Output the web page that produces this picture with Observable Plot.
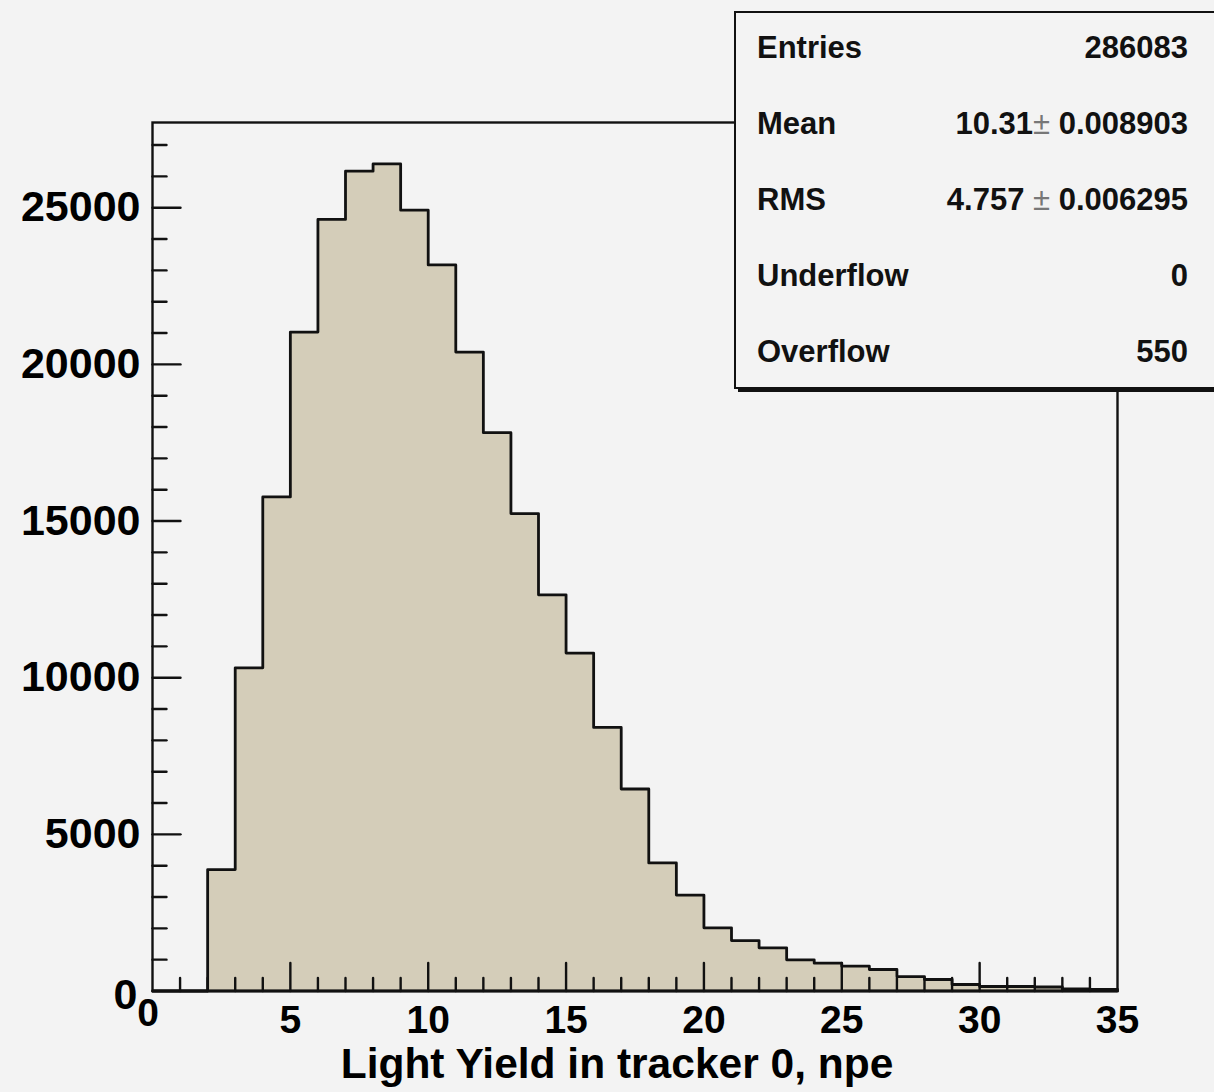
<!DOCTYPE html>
<html>
<head>
<meta charset="utf-8">
<script src="https://cdn.jsdelivr.net/npm/d3@7"></script>
<script src="https://cdn.jsdelivr.net/npm/@observablehq/plot@0.6"></script>
<style>
  html, body { margin: 0; padding: 0; background: #f3f3f3; }
  #wrap { position: relative; width: 1214px; height: 1092px; overflow: hidden; }
  #stats { position: absolute; left: 0; top: 0; pointer-events: none; }
</style>
</head>
<body>
<div id="wrap"></div>
<script>
// ---- data ----
const binEdges = d3.range(0, 36);            // 0..35, bin width 1
const binCounts = [0, 0, 3875, 10316, 15770, 21031, 24626, 26166, 26399, 24922,
  23175, 20394, 17820, 15237, 12644, 10785, 8413, 6448, 4088, 3061,
  2015, 1610, 1378, 995, 887, 791, 686, 462, 367, 207,
  144, 144, 128, 64, 48];
const xMajorTicks = [0, 5, 10, 15, 20, 25, 30, 35];
const xMinorTicks = d3.range(0, 36).filter(d => d % 5 !== 0);
const yMajorTicks = [0, 5000, 10000, 15000, 20000, 25000];
const yMinorTicks = d3.range(0, 28000, 1000).filter(d => d % 5000 !== 0);
const yMax = 27720;
const xTitle = "Light Yield in tracker 0, npe";
const statLabels = ["Entries", "Mean", "RMS", "Underflow", "Overflow"];
const statValues = [["286083"], ["10.31", "±", " 0.008903"], ["4.757 ", "±", " 0.006295"], ["0"], ["550"]];

// ---- derived tables ----
const bins = binCounts.map((c, i) => ({x1: binEdges[i], x2: binEdges[i + 1], count: c}));
const outline = [{x: 0, y: 0}]
  .concat(binCounts.map((c, i) => ({x: binEdges[i], y: c})))
  .concat([{x: binEdges[binEdges.length - 1], y: binCounts[binCounts.length - 1]},
           {x: binEdges[binEdges.length - 1], y: 0}]);

const font = "'Liberation Sans', Arial, Helvetica, sans-serif";
const tickShape = {draw(ctx, l) { ctx.moveTo(0, 0); ctx.lineTo(0, -l); }};
const fmt = d3.format("d");
const ink = "#111";

const chart = Plot.plot({
  width: 1214,
  height: 1092,
  marginLeft: 152,
  marginRight: 97,
  marginTop: 122,
  marginBottom: 101.5,
  style: {background: "#f3f3f3", fontFamily: font, overflow: "visible"},
  x: {domain: [0, 35]},
  y: {domain: [0, yMax]},
  marks: [
    Plot.rectY(bins, {x1: "x1", x2: "x2", y: "count", fill: "#d4cdb9", shapeRendering: "crispEdges"}),
    Plot.line(outline, {x: "x", y: "y", curve: "step-after", stroke: ink, strokeWidth: 2.8}),
    Plot.frame({stroke: ink, strokeWidth: 2.4}),
    Plot.ruleY([0], {stroke: ink, strokeWidth: 3}),
    // x ticks (inside, upward)
    Plot.vectorX(xMajorTicks.slice(1, -1), {x: d => d, frameAnchor: "bottom", length: 28, anchor: "start", shape: tickShape, stroke: ink, strokeWidth: 2.4}),
    Plot.vectorX(xMinorTicks, {x: d => d, frameAnchor: "bottom", length: 13, anchor: "start", shape: tickShape, stroke: ink, strokeWidth: 2.4}),
    // y ticks (inside, rightward)
    Plot.vectorY(yMajorTicks.slice(1), {y: d => d, frameAnchor: "left", length: 28, rotate: 90, anchor: "start", shape: tickShape, stroke: ink, strokeWidth: 2.4}),
    Plot.vectorY(yMinorTicks, {y: d => d, frameAnchor: "left", length: 14, rotate: 90, anchor: "start", shape: tickShape, stroke: ink, strokeWidth: 2.4}),
    // tick labels
    Plot.axisX(xMajorTicks.slice(1), {tickSize: 0, tickPadding: 14, tickFormat: fmt, label: null, fontSize: 39, fontWeight: "bold", fill: "#000"}),
    Plot.axisX([0], {tickSize: 0, tickPadding: 7, dx: -4.5, tickFormat: fmt, label: null, fontSize: 39, fontWeight: "bold", fill: "#000"}),
    Plot.axisY(yMajorTicks.slice(1), {tickSize: 0, tickPadding: 12, tickFormat: fmt, label: null, fontSize: 43, fontWeight: "bold", fill: "#000"}),
    Plot.axisY([0], {tickSize: 0, tickPadding: 15, dy: 4, tickFormat: fmt, label: null, fontSize: 43, fontWeight: "bold", fill: "#000"}),
    // axis title
    Plot.text([xTitle], {text: d => d, frameAnchor: "bottom", lineAnchor: "top", dy: 57, dx: -18, fontSize: 42.5, fontWeight: "bold", fill: "#000"})
  ]
});
document.getElementById("wrap").appendChild(chart);

// ---- statistics box overlay ----
const svg = d3.select("#wrap").append("svg")
  .attr("id", "stats").attr("width", 1214).attr("height", 400)
  .style("font-family", font);
svg.append("rect").attr("x", 738).attr("y", 15).attr("width", 600).attr("height", 377).attr("fill", ink);
svg.append("rect").attr("x", 735).attr("y", 12).attr("width", 600).attr("height", 376)
  .attr("fill", "#f3f3f3").attr("stroke", ink).attr("stroke-width", 2);
const rowY = [58, 134, 210, 286, 362];
statLabels.forEach((lab, i) => {
  svg.append("text").attr("x", 757).attr("y", rowY[i]).attr("font-size", 31).attr("font-weight", "bold")
    .attr("fill", ink).text(lab);
  const t = svg.append("text").attr("x", 1188).attr("y", rowY[i]).attr("text-anchor", "end")
    .attr("font-size", 31).attr("font-weight", "bold").attr("fill", ink);
  statValues[i].forEach(part => {
    const s = t.append("tspan").text(part);
    if (part === "±") s.attr("font-weight", "normal").attr("fill", "#777");
  });
});
</script>
</body>
</html>
